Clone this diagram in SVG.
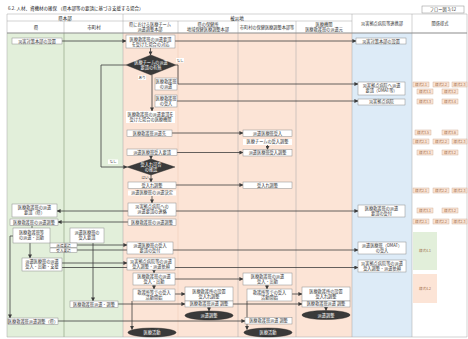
<svg xmlns="http://www.w3.org/2000/svg" width="468" height="339" viewBox="0 0 468 339">
<defs>
<marker id="ah" markerWidth="4" markerHeight="4" refX="3.6" refY="2" orient="auto" markerUnits="userSpaceOnUse"><path d="M0,0 L4,2 L0,4 z" fill="#3c3c3c"/></marker>
</defs>
<style>
text{font-family:"Noto Sans CJK JP","Noto Sans",sans-serif;font-size:4.2px;fill:#333;text-anchor:middle}
.t{text-anchor:start}
.h{font-size:4.5px;fill:#222}
.box{fill:#fff;stroke:#8c8c8c;stroke-width:0.5}
.bg{fill:#fff}
.cl{stroke:#a6a6a6;stroke-width:0.5;fill:none}
.cn{stroke:#3c3c3c;stroke-width:0.8;fill:none}
.ca{stroke:#3c3c3c;stroke-width:0.8;fill:none;marker-end:url(#ah)}
.dk{fill:#3a3a3a;stroke:#222;stroke-width:0.4}
.wt{fill:#fff}
.lb{font-size:3.6px}
.fm{fill:#fbe4d5;stroke:#c8a48c;stroke-width:0.4}
.ft{fill:#9c6b45;font-size:3.5px}
</style>
<rect x="0" y="0" width="468" height="339" fill="#fff"/>
<text class="t h" x="8" y="9.5">6.2. 人材、資機材の確保 （県本部等の要請に基づき支援する場合）</text>
<g id="pageno"><rect x="422" y="6" width="42" height="7" class="box"/><text x="443" y="11">フロー図 3/12</text></g>

<g id="lanes">
<rect x="7" y="33" width="116" height="304" fill="#e2efda"/>
<rect x="123" y="33" width="229" height="304" fill="#fce4d6"/>
<rect x="352" y="33" width="60" height="304" fill="#ddebf7"/>
<rect x="412" y="33" width="55" height="304" fill="#fff"/>
<rect x="7" y="14" width="460" height="19" fill="#fff"/>
<path class="cl" d="M7,14 H467 V337 H7 Z M7,21 H352 M64,21 V337 M123,14 V337 M178,21 V33 M238,21 V337 M296,21 V337 M352,14 V337 M412,14 V337"/>
<path d="M178,33 V337" stroke="#e8bfa6" stroke-width="0.4"/>
<path d="M64,33 V337" stroke="#9fbf8a" stroke-width="0.5"/>
<path d="M7,33 H467" stroke="#8c8c8c" stroke-width="1.2"/>
<text class="h" x="65" y="19.5">県本部</text>
<text class="h" x="237" y="19.5">被災地</text>
<text class="h" x="36" y="28.5">県</text>
<text class="h" x="94" y="28.5">市町村</text>
<text x="150" y="26">県における医療チーム</text><text x="150" y="31">派遣調整本部</text>
<text x="208" y="26">県の保健所</text><text x="208" y="31">地域保健医療調整本部</text>
<text x="267" y="28.5">市町村の保健医療調整本部等</text>
<text x="324" y="26">医療機関</text><text x="324" y="31">医療救護班の派遣元</text>
<text x="382" y="25">災害拠点病院等連携部</text>
<text x="440" y="25">関係様式</text>
</g>

<g id="connectors">
<path class="ca" d="M62,41 H126"/>
<path class="ca" d="M175,41 H356"/>
<path class="ca" d="M150.5,48 V55"/>
<path class="ca" d="M176,65 H178 V84 H358"/>
<path class="ca" d="M177,101 H358"/>
<path class="ca" d="M152,75 V111"/>
<path class="ca" d="M126,65 H101 V167 H127"/>
<path class="ca" d="M172,133 H243"/>
<path class="ca" d="M267.5,145 V149.5"/>
<path class="ca" d="M177,152.5 H243"/>
<path class="ca" d="M151,155.5 V159"/>
<path class="ca" d="M151,175 V182"/>
<path class="ca" d="M176,185 H243"/>
<path class="ca" d="M152,196 V203"/>
<path class="ca" d="M128,211 H57"/>
<path class="ca" d="M176,211 H358"/>
<path class="ca" d="M128,222 H58"/>
<path class="cn" d="M32,225.5 V228"/>
<path class="ca" d="M77,245 H127"/>
<path class="ca" d="M77,250 H358"/>
<path class="ca" d="M30,243 V258"/>
<path class="ca" d="M62,263 H127"/>
<path class="ca" d="M62,267.5 H358"/>
<path class="ca" d="M154,270 V273"/>
<path class="ca" d="M175,279 H243"/>
<path class="ca" d="M154,285 V289"/>
<path class="ca" d="M175,294 H185"/>
<path class="ca" d="M209,307 V311"/>
<path class="ca" d="M267,285 V289"/>
<path class="ca" d="M292,294 H302"/>
<path class="ca" d="M326,307 V310.5"/>
<path class="ca" d="M93,243 V301"/>
<path class="ca" d="M118,304 H185"/>
<path class="ca" d="M233,304 H302"/>
<path class="ca" d="M13,236 H10 V318"/>
<path class="ca" d="M58,321 H245"/>
<path class="ca" d="M132,301 V329.5"/>
<path class="ca" d="M247,301 V329.5"/>
</g>

<g id="n1"><rect class="box" x="12" y="38" width="50" height="6"/><text x="37" y="42.5">災害対策本部の設置</text></g>
<g id="n2"><rect class="box" x="126" y="35" width="49" height="13"/><text x="150.5" y="40.5">医療救護班の派遣要請</text><text x="150.5" y="45.5">を受けた場合の対応</text></g>
<g id="n3"><rect class="box" x="356" y="38" width="50" height="6"/><text x="381" y="42.5">災害対策本部の設置</text></g>
<g id="d1"><polygon class="dk" points="126,65 151,55 176,65 151,75"/><text class="wt" x="151" y="64">医療チームの派遣</text><text class="wt" x="151" y="68.5">要請の有無</text></g>
<g id="lab1"><rect class="bg" x="176" y="58" width="8" height="4.5"/><text class="lb" x="180" y="61.5">なし</text></g>
<g id="lab2"><rect class="bg" x="138" y="75.5" width="8" height="4.5"/><text class="lb" x="142" y="79">あり</text></g>
<g id="b1"><rect class="box" x="155" y="78" width="22" height="12"/><text x="166" y="83">医療救護班</text><text x="166" y="88">の派遣</text></g>
<g id="g1"><rect class="box" x="358" y="82" width="47" height="13"/><text x="381.5" y="87">災害拠点病院へ派遣</text><text x="381.5" y="92">要請（DMAT等）</text></g>
<g id="b2"><rect class="box" x="155" y="95" width="22" height="12"/><text x="166" y="100">医療救護班</text><text x="166" y="105">の受入</text></g>
<g id="g2"><rect class="box" x="358" y="99" width="47" height="6"/><text x="381.5" y="103.3">災害拠点病院</text></g>
<g id="t1"><rect class="bg" x="126" y="111" width="49" height="12"/><text x="150.5" y="116">医療救護班の派遣要請を</text><text x="150.5" y="121">受けた場合の医療機関</text></g>
<g id="b3"><rect class="box" x="127" y="130" width="45" height="6.5"/><text x="149.5" y="134.6">医療救護班派遣先</text></g>
<g id="c5a"><rect class="box" x="243" y="130" width="49" height="6.5"/><text x="267.5" y="134.6">派遣医療班受入</text></g>
<g id="t2"><rect class="bg" x="243" y="139" width="49" height="6"/><text x="267.5" y="143.2">医療チームの受入調整</text></g>
<g id="c5b"><rect class="box" x="243" y="149.5" width="49" height="6.5"/><text x="267.5" y="154">派遣医療班受入調整</text></g>
<g id="b4"><rect class="box" x="127" y="149" width="50" height="6.5"/><text x="152" y="153.6">派遣医療班受入要請</text></g>
<g id="lab3"><rect class="bg" x="108" y="159.5" width="10" height="4.5"/><text class="lb" x="113" y="163">なし</text></g>
<g id="d2"><polygon class="dk" points="127,167 151,159 175,167 151,175"/><text class="wt" x="151" y="166">受入れ可否</text><text class="wt" x="151" y="170.5">の確認</text></g>
<g id="lab4"><text class="lb" x="145" y="179">はい</text></g>
<g id="b5"><rect class="box" x="128" y="182" width="48" height="6.5"/><text x="152" y="186.6">受入れ調整</text></g>
<g id="c5c"><rect class="box" x="243" y="182" width="49" height="6.5"/><text x="267.5" y="186.6">受入れ調整</text></g>
<g id="t3"><rect class="bg" x="128" y="190.5" width="48" height="5"/><text x="152" y="194.3">派遣医療班の派遣決定</text></g>
<g id="b6"><rect class="box" x="128" y="203" width="48" height="13"/><text x="152" y="208">災害拠点病院への</text><text x="152" y="213">派遣要請の連絡</text></g>
<g id="a1"><rect class="box" x="12" y="204" width="45" height="13"/><text x="34.5" y="209">医療救護班の派遣</text><text x="34.5" y="214">要請（県）</text></g>
<g id="g3"><rect class="box" x="358" y="205" width="47" height="12"/><text x="381.5" y="209.8">医療救護班の派遣</text><text x="381.5" y="214.8">要請の受付</text></g>
<g id="b7"><rect class="box" x="128" y="219" width="48" height="6.5"/><text x="152" y="223.6">医療救護班の派遣調整</text></g>
<g id="a2"><rect class="box" x="10" y="219" width="48" height="6.5"/><text x="34" y="223.6">医療救護班の派遣調整</text></g>
<g id="a3"><rect class="box" x="13" y="228" width="37" height="15"/><text x="31.5" y="234">医療救護班等</text><text x="31.5" y="239">の派遣・出動</text></g>
<g id="a4"><rect class="box" x="70" y="228" width="34" height="15"/><text x="87" y="234">派遣医療班の</text><text x="87" y="239">受入要請</text></g>
<g id="s1"><rect class="box" x="50" y="243" width="27" height="4.5"/><text class="lb" x="63.5" y="246.5">派遣要請</text></g>
<g id="s2"><rect class="box" x="50" y="248" width="27" height="4.5"/><text class="lb" x="63.5" y="251.5">受入要請</text></g>
<g id="c3a"><rect class="box" x="127" y="242" width="46" height="12"/><text x="150" y="247">派遣医療班の受入</text><text x="150" y="252">要請の受付</text></g>
<g id="g4"><rect class="box" x="358" y="242" width="48" height="12"/><text x="382" y="247">派遣医療班（DMAT）</text><text x="382" y="252">の受入</text></g>
<g id="a5"><rect class="box" x="22" y="258" width="40" height="13"/><text x="42" y="263">派遣医療班の派遣</text><text x="42" y="268">受入・出動・支援</text></g>
<g id="c3b"><rect class="box" x="127" y="258" width="48" height="12"/><text x="151" y="263">災害拠点病院等の派遣</text><text x="151" y="268">受入調整・派遣依頼</text></g>
<g id="g5"><rect class="box" x="358" y="260" width="48" height="12"/><text x="382" y="265">災害拠点病院等の派遣</text><text x="382" y="270">受入調整・派遣依頼</text></g>
<g id="c3c"><rect class="box" x="133" y="273" width="42" height="12"/><text x="154" y="278">医療救護班の派遣</text><text x="154" y="283">受入・出動</text></g>
<g id="c5d"><rect class="box" x="243" y="273" width="49" height="12"/><text x="267.5" y="278">医療救護班の派遣</text><text x="267.5" y="283">受入・出動</text></g>
<g id="c3d"><rect class="box" x="133" y="289" width="42" height="12"/><text x="154" y="294">救護所等での受入</text><text x="154" y="299">活動開始</text></g>
<g id="c5e"><rect class="box" x="247" y="289" width="45" height="12"/><text x="269.5" y="294">救護所等での受入</text><text x="269.5" y="299">活動開始</text></g>
<g id="c4"><rect class="box" x="185" y="287" width="48" height="14"/><text x="209" y="292.5">医療救護所の設置</text><text x="209" y="297.5">受入れ調整</text><rect class="box" x="185" y="301" width="48" height="6"/><text x="209" y="305.3">医療救護班派遣 調整</text></g>
<g id="c6"><rect class="box" x="302" y="287" width="48" height="14"/><text x="326" y="292.5">医療救護所の設置</text><text x="326" y="297.5">受入れ調整</text><rect class="box" x="302" y="301" width="48" height="6"/><text x="326" y="305.3">医療救護班派遣 調整</text></g>
<g id="e1"><ellipse class="dk" cx="209" cy="315.5" rx="24" ry="4.5"/><text class="wt" x="209" y="317">派遣調整</text></g>
<g id="e2"><ellipse class="dk" cx="326" cy="315" rx="24" ry="4.5"/><text class="wt" x="326" y="316.5">派遣調整</text></g>
<g id="a7"><rect class="box" x="70" y="301" width="48" height="6.5"/><text x="94" y="305.6">医療救護班派遣・調整</text></g>
<g id="a6"><rect class="box" x="8" y="318" width="50" height="6.5"/><text x="33" y="322.6">医療救護班派遣調整（県）</text></g>
<g id="c5f"><rect class="box" x="245" y="317.5" width="47" height="6.5"/><text x="268.5" y="322">医療救護班派遣 調整</text></g>
<g id="e3"><ellipse class="dk" cx="152" cy="332.5" rx="24" ry="4.5"/><text class="wt" x="152" y="334">医療活動</text></g>
<g id="e4"><ellipse class="dk" cx="268" cy="332.5" rx="24" ry="4.5"/><text class="wt" x="268" y="334">医療活動</text></g>

<g id="forms">
<rect class="fm" x="413" y="82" width="16" height="5"/><text class="ft" x="421" y="85.7">様式2-1</text>
<rect class="fm" x="433" y="82" width="16" height="5"/><text class="ft" x="441" y="85.7">様式2-2</text>
<rect class="fm" x="452" y="82" width="15" height="5"/><text class="ft" x="459.5" y="85.7">様式2-3</text>
<rect class="fm" x="417" y="89" width="16" height="5"/><text class="ft" x="425" y="92.7">様式3-1</text>
<rect class="fm" x="442" y="89" width="16" height="5"/><text class="ft" x="450" y="92.7">様式3-2</text>
<rect class="fm" x="417" y="99" width="16" height="5"/><text class="ft" x="425" y="102.7">様式3-3</text>
<rect class="fm" x="442" y="99" width="16" height="5"/><text class="ft" x="450" y="102.7">様式3-4</text>
<rect class="fm" x="415" y="130" width="16" height="5"/><text class="ft" x="423" y="133.7">様式3-5</text>
<rect class="fm" x="442" y="130" width="16" height="5"/><text class="ft" x="450" y="133.7">様式3-6</text>
<rect class="fm" x="413" y="139" width="16" height="5"/><text class="ft" x="421" y="142.7">様式2-1</text>
<rect class="fm" x="433" y="139" width="16" height="5"/><text class="ft" x="441" y="142.7">様式2-2</text>
<rect class="fm" x="452" y="139" width="15" height="5"/><text class="ft" x="459.5" y="142.7">様式2-3</text>
<rect class="fm" x="417" y="150" width="16" height="5"/><text class="ft" x="425" y="153.7">様式3-1</text>
<rect class="fm" x="442" y="150" width="16" height="5"/><text class="ft" x="450" y="153.7">様式3-2</text>
<rect class="fm" x="413" y="188" width="16" height="5"/><text class="ft" x="421" y="191.7">様式2-1</text>
<rect class="fm" x="433" y="188" width="16" height="5"/><text class="ft" x="441" y="191.7">様式2-2</text>
<rect class="fm" x="452" y="188" width="15" height="5"/><text class="ft" x="459.5" y="191.7">様式2-3</text>
<rect class="fm" x="417" y="208" width="16" height="5"/><text class="ft" x="425" y="211.7">様式3-1</text>
<rect class="fm" x="442" y="208" width="16" height="5"/><text class="ft" x="450" y="211.7">様式3-2</text>
<rect class="fm" x="413" y="219" width="16" height="5"/><text class="ft" x="421" y="222.7">様式2-1</text>
<rect class="fm" x="433" y="219" width="16" height="5"/><text class="ft" x="441" y="222.7">様式2-2</text>
<rect class="fm" x="452" y="219" width="15" height="5"/><text class="ft" x="459.5" y="222.7">様式2-3</text>
<rect x="413" y="232" width="24" height="38" fill="#e2efda"/><text class="ft" x="425" y="252">様式4-1</text>
<rect x="413" y="274" width="24" height="29" fill="#fce4d6"/><text class="ft" x="425" y="290">様式4-2</text>
</g>
</svg>
